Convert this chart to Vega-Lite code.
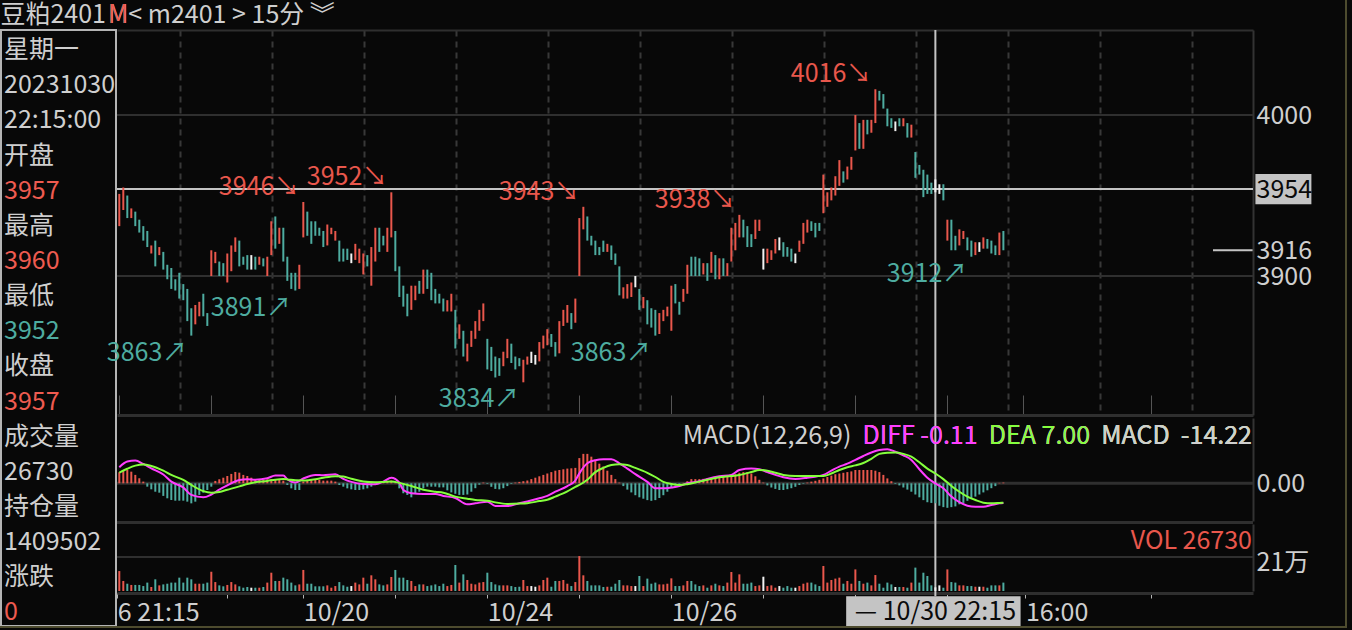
{
  "$schema": "https://vega.github.io/schema/vega-lite/v6.json",
  "width": 1352,
  "height": 630,
  "autosize": "none",
  "padding": 0,
  "background": "#080808",
  "config": {
    "view": {"stroke": null},
    "font": "Noto Sans CJK SC",
    "text": {"font": "Noto Sans CJK SC", "fontSize": 25},
    "axis": {"grid": false, "labelFont": "Noto Sans CJK SC", "labelFontSize": 25, "labelColor": "#cfcfcf"}
  },
  "datasets": {
    "k": [
      {"i":0,"o":3931,"h":3951,"l":3931,"c":3951,"v":145000,"m":7.9},
      {"i":1,"o":3941,"h":3955,"l":3941,"c":3955,"v":73000,"m":9},
      {"i":2,"o":3950,"h":3950,"l":3936,"c":3936,"v":53000,"m":9.5},
      {"i":3,"o":3936,"h":3942,"l":3936,"c":3942,"v":44000,"m":8.3},
      {"i":4,"o":3940,"h":3940,"l":3931,"c":3931,"v":44000,"m":6},
      {"i":5,"o":3935,"h":3935,"l":3927,"c":3927,"v":44000,"m":3.6},
      {"i":6,"o":3931,"h":3931,"l":3922,"c":3922,"v":36000,"m":1.2},
      {"i":7,"o":3928,"h":3928,"l":3918,"c":3918,"v":61000,"m":-2.4},
      {"i":8,"o":3914,"h":3919,"l":3914,"c":3919,"v":29000,"m":-4.3},
      {"i":9,"o":3922,"h":3922,"l":3906,"c":3906,"v":85000,"m":-6},
      {"i":10,"o":3913,"h":3918,"l":3913,"c":3918,"v":41000,"m":-6.7},
      {"i":11,"o":3915,"h":3915,"l":3904,"c":3904,"v":48000,"m":-9},
      {"i":12,"o":3907,"h":3907,"l":3898,"c":3898,"v":53000,"m":-10.7},
      {"i":13,"o":3905,"h":3905,"l":3892,"c":3892,"v":61000,"m":-11.9},
      {"i":14,"o":3898,"h":3898,"l":3891,"c":3891,"v":61000,"m":-12.4},
      {"i":15,"o":3902,"h":3902,"l":3886,"c":3886,"v":97000,"m":-12.4},
      {"i":16,"o":3895,"h":3895,"l":3885,"c":3885,"v":61000,"m":-12.4},
      {"i":17,"o":3892,"h":3892,"l":3872,"c":3872,"v":97000,"m":-13.1},
      {"i":18,"o":3880,"h":3880,"l":3863,"c":3864,"v":85000,"m":-14.3},
      {"i":19,"o":3870,"h":3882,"l":3870,"c":3882,"v":53000,"m":-13.1},
      {"i":20,"o":3875,"h":3884,"l":3875,"c":3884,"v":53000,"m":-8.3},
      {"i":21,"o":3889,"h":3889,"l":3875,"c":3875,"v":53000,"m":-6.7},
      {"i":22,"o":3877,"h":3877,"l":3869,"c":3869,"v":61000,"m":-4.8},
      {"i":23,"o":3900,"h":3916,"l":3900,"c":3916,"v":140000,"m":-2.4},
      {"i":24,"o":3908,"h":3915,"l":3908,"c":3915,"v":65000,"m":1.7},
      {"i":25,"o":3909,"h":3909,"l":3900,"c":3900,"v":41000,"m":2.9},
      {"i":26,"o":3908,"h":3908,"l":3900,"c":3900,"v":34000,"m":4},
      {"i":27,"o":3896,"h":3914,"l":3896,"c":3914,"v":44000,"m":5.2},
      {"i":28,"o":3903,"h":3919,"l":3903,"c":3919,"v":65000,"m":6.7},
      {"i":29,"o":3915,"h":3924,"l":3915,"c":3924,"v":48000,"m":8.1},
      {"i":30,"o":3922,"h":3922,"l":3906,"c":3906,"v":34000,"m":7.6},
      {"i":31,"o":3912,"h":3912,"l":3907,"c":3907,"v":24000,"m":6},
      {"i":32,"o":3913,"h":3913,"l":3904,"c":3904,"v":29000,"m":5.2},
      {"i":33,"o":3908,"h":3913,"l":3904,"c":3908,"v":24000,"m":4},
      {"i":34,"o":3912,"h":3912,"l":3904,"c":3904,"v":24000,"m":2.9},
      {"i":35,"o":3907,"h":3912,"l":3907,"c":3912,"v":24000,"m":2.4},
      {"i":36,"o":3911,"h":3911,"l":3906,"c":3906,"v":29000,"m":2.4},
      {"i":37,"o":3900,"h":3912,"l":3900,"c":3912,"v":61000,"m":2.9},
      {"i":38,"o":3913,"h":3934,"l":3913,"c":3934,"v":133000,"m":2.9},
      {"i":39,"o":3937,"h":3937,"l":3917,"c":3917,"v":73000,"m":2.9},
      {"i":40,"o":3920,"h":3930,"l":3920,"c":3930,"v":73000,"m":2.9},
      {"i":41,"o":3930,"h":3930,"l":3909,"c":3909,"v":97000,"m":1.9},
      {"i":42,"o":3912,"h":3912,"l":3897,"c":3897,"v":85000,"m":-1.2},
      {"i":43,"o":3902,"h":3902,"l":3892,"c":3892,"v":61000,"m":-3.6},
      {"i":44,"o":3902,"h":3902,"l":3891,"c":3891,"v":41000,"m":-4.8},
      {"i":45,"o":3892,"h":3907,"l":3892,"c":3907,"v":48000,"m":-4.8},
      {"i":46,"o":3924,"h":3946,"l":3924,"c":3945,"v":153000,"m":1.2},
      {"i":47,"o":3940,"h":3940,"l":3925,"c":3925,"v":53000,"m":2.4},
      {"i":48,"o":3934,"h":3934,"l":3920,"c":3920,"v":53000,"m":2.9},
      {"i":49,"o":3934,"h":3934,"l":3925,"c":3925,"v":34000,"m":3.1},
      {"i":50,"o":3930,"h":3930,"l":3925,"c":3925,"v":34000,"m":2.4},
      {"i":51,"o":3928,"h":3928,"l":3918,"c":3918,"v":34000,"m":1.9},
      {"i":52,"o":3919,"h":3932,"l":3919,"c":3932,"v":41000,"m":1.9},
      {"i":53,"o":3926,"h":3930,"l":3926,"c":3930,"v":24000,"m":1.9},
      {"i":54,"o":3922,"h":3928,"l":3922,"c":3928,"v":36000,"m":1.2},
      {"i":55,"o":3922,"h":3922,"l":3909,"c":3909,"v":65000,"m":-1.2},
      {"i":56,"o":3917,"h":3917,"l":3909,"c":3909,"v":41000,"m":-2.4},
      {"i":57,"o":3917,"h":3917,"l":3910,"c":3910,"v":31000,"m":-3.6},
      {"i":58,"o":3911,"h":3914,"l":3908,"c":3911,"v":36000,"m":-4.3},
      {"i":59,"o":3910,"h":3920,"l":3910,"c":3920,"v":61000,"m":-4.8},
      {"i":60,"o":3908,"h":3917,"l":3908,"c":3917,"v":48000,"m":-4.8},
      {"i":61,"o":3901,"h":3914,"l":3901,"c":3914,"v":97000,"m":-4.3},
      {"i":62,"o":3913,"h":3913,"l":3906,"c":3906,"v":53000,"m":-3.6},
      {"i":63,"o":3894,"h":3918,"l":3894,"c":3918,"v":114000,"m":-2.4},
      {"i":64,"o":3909,"h":3930,"l":3909,"c":3930,"v":85000,"m":-0.7},
      {"i":65,"o":3930,"h":3930,"l":3915,"c":3915,"v":48000,"m":0.5},
      {"i":66,"o":3925,"h":3925,"l":3919,"c":3919,"v":41000,"m":0.7},
      {"i":67,"o":3915,"h":3930,"l":3915,"c":3930,"v":48000,"m":1.2},
      {"i":68,"o":3924,"h":3952,"l":3924,"c":3951,"v":102000,"m":1.9},
      {"i":69,"o":3928,"h":3928,"l":3903,"c":3903,"v":153000,"m":0.5},
      {"i":70,"o":3906,"h":3906,"l":3887,"c":3887,"v":97000,"m":-3.6},
      {"i":71,"o":3894,"h":3894,"l":3881,"c":3881,"v":97000,"m":-7.1},
      {"i":72,"o":3889,"h":3889,"l":3875,"c":3875,"v":80000,"m":-8.3},
      {"i":73,"o":3879,"h":3894,"l":3879,"c":3894,"v":73000,"m":-10},
      {"i":74,"o":3885,"h":3894,"l":3885,"c":3894,"v":36000,"m":-7.6},
      {"i":75,"o":3897,"h":3897,"l":3889,"c":3889,"v":48000,"m":-6},
      {"i":76,"o":3889,"h":3904,"l":3889,"c":3904,"v":48000,"m":-3.6},
      {"i":77,"o":3904,"h":3904,"l":3892,"c":3892,"v":36000,"m":-2.4},
      {"i":78,"o":3902,"h":3902,"l":3885,"c":3885,"v":41000,"m":-2.4},
      {"i":79,"o":3892,"h":3892,"l":3883,"c":3883,"v":48000,"m":-2.4},
      {"i":80,"o":3889,"h":3889,"l":3883,"c":3883,"v":36000,"m":-2.9},
      {"i":81,"o":3886,"h":3886,"l":3878,"c":3878,"v":53000,"m":-2.9},
      {"i":82,"o":3878,"h":3885,"l":3878,"c":3885,"v":36000,"m":-5},
      {"i":83,"o":3878,"h":3889,"l":3878,"c":3889,"v":44000,"m":-6.5},
      {"i":84,"o":3879,"h":3879,"l":3855,"c":3855,"v":189000,"m":-7.5},
      {"i":85,"o":3861,"h":3870,"l":3861,"c":3870,"v":61000,"m":-8.3},
      {"i":86,"o":3866,"h":3866,"l":3850,"c":3850,"v":121000,"m":-8.3},
      {"i":87,"o":3847,"h":3858,"l":3847,"c":3858,"v":80000,"m":-8},
      {"i":88,"o":3856,"h":3866,"l":3856,"c":3866,"v":53000,"m":-6},
      {"i":89,"o":3861,"h":3872,"l":3861,"c":3872,"v":48000,"m":-3.5},
      {"i":90,"o":3866,"h":3879,"l":3866,"c":3879,"v":61000,"m":-1},
      {"i":91,"o":3872,"h":3883,"l":3872,"c":3883,"v":65000,"m":0.5},
      {"i":92,"o":3861,"h":3861,"l":3842,"c":3842,"v":133000,"m":-0.5},
      {"i":93,"o":3856,"h":3856,"l":3841,"c":3841,"v":65000,"m":-2.5},
      {"i":94,"o":3850,"h":3850,"l":3837,"c":3837,"v":48000,"m":-4},
      {"i":95,"o":3849,"h":3849,"l":3838,"c":3838,"v":41000,"m":-4.3},
      {"i":96,"o":3844,"h":3853,"l":3844,"c":3853,"v":41000,"m":-3.5},
      {"i":97,"o":3849,"h":3861,"l":3849,"c":3861,"v":41000,"m":-2},
      {"i":98,"o":3858,"h":3858,"l":3846,"c":3846,"v":36000,"m":-0.5},
      {"i":99,"o":3850,"h":3850,"l":3842,"c":3842,"v":29000,"m":0.5},
      {"i":100,"o":3849,"h":3849,"l":3844,"c":3844,"v":31000,"m":1},
      {"i":101,"o":3834,"h":3848,"l":3834,"c":3848,"v":80000,"m":1.5},
      {"i":102,"o":3845,"h":3850,"l":3845,"c":3850,"v":36000,"m":2},
      {"i":103,"o":3848,"h":3853,"l":3846,"c":3848,"v":36000,"m":3},
      {"i":104,"o":3847,"h":3851,"l":3845,"c":3847,"v":31000,"m":4},
      {"i":105,"o":3847,"h":3859,"l":3847,"c":3859,"v":41000,"m":5},
      {"i":106,"o":3855,"h":3863,"l":3855,"c":3863,"v":80000,"m":6},
      {"i":107,"o":3857,"h":3867,"l":3857,"c":3867,"v":97000,"m":7},
      {"i":108,"o":3864,"h":3864,"l":3856,"c":3856,"v":31000,"m":8},
      {"i":109,"o":3859,"h":3859,"l":3850,"c":3850,"v":73000,"m":9},
      {"i":110,"o":3852,"h":3872,"l":3852,"c":3872,"v":73000,"m":9.5},
      {"i":111,"o":3869,"h":3879,"l":3869,"c":3879,"v":80000,"m":10},
      {"i":112,"o":3871,"h":3882,"l":3871,"c":3882,"v":53000,"m":10.5},
      {"i":113,"o":3877,"h":3877,"l":3867,"c":3867,"v":36000,"m":10.7},
      {"i":114,"o":3871,"h":3886,"l":3871,"c":3886,"v":65000,"m":11},
      {"i":115,"o":3900,"h":3936,"l":3900,"c":3936,"v":254000,"m":18},
      {"i":116,"o":3929,"h":3943,"l":3929,"c":3942,"v":114000,"m":21},
      {"i":117,"o":3937,"h":3937,"l":3922,"c":3922,"v":73000,"m":21},
      {"i":118,"o":3925,"h":3925,"l":3919,"c":3919,"v":41000,"m":19},
      {"i":119,"o":3922,"h":3922,"l":3913,"c":3913,"v":41000,"m":16},
      {"i":120,"o":3918,"h":3918,"l":3913,"c":3913,"v":41000,"m":14},
      {"i":121,"o":3922,"h":3922,"l":3915,"c":3915,"v":29000,"m":12},
      {"i":122,"o":3915,"h":3920,"l":3915,"c":3920,"v":31000,"m":9},
      {"i":123,"o":3919,"h":3919,"l":3910,"c":3910,"v":31000,"m":6},
      {"i":124,"o":3914,"h":3914,"l":3907,"c":3907,"v":53000,"m":3},
      {"i":125,"o":3906,"h":3906,"l":3888,"c":3888,"v":80000,"m":0.5},
      {"i":126,"o":3886,"h":3893,"l":3886,"c":3893,"v":41000,"m":-2},
      {"i":127,"o":3886,"h":3895,"l":3886,"c":3895,"v":41000,"m":-4.5},
      {"i":128,"o":3887,"h":3896,"l":3887,"c":3896,"v":36000,"m":-6.5},
      {"i":129,"o":3897,"h":3900,"l":3893,"c":3897,"v":36000,"m":-8.5},
      {"i":130,"o":3892,"h":3892,"l":3879,"c":3879,"v":109000,"m":-10},
      {"i":131,"o":3880,"h":3887,"l":3880,"c":3887,"v":36000,"m":-11},
      {"i":132,"o":3885,"h":3885,"l":3870,"c":3870,"v":90000,"m":-12},
      {"i":133,"o":3880,"h":3880,"l":3868,"c":3868,"v":53000,"m":-12.5},
      {"i":134,"o":3879,"h":3879,"l":3863,"c":3863,"v":61000,"m":-12},
      {"i":135,"o":3864,"h":3877,"l":3864,"c":3877,"v":48000,"m":-10.5},
      {"i":136,"o":3872,"h":3879,"l":3872,"c":3879,"v":48000,"m":-8.5},
      {"i":137,"o":3875,"h":3881,"l":3875,"c":3881,"v":53000,"m":-6},
      {"i":138,"o":3866,"h":3894,"l":3866,"c":3894,"v":92000,"m":-3.5},
      {"i":139,"o":3895,"h":3895,"l":3883,"c":3883,"v":36000,"m":-1.5},
      {"i":140,"o":3884,"h":3884,"l":3876,"c":3876,"v":36000,"m":-0.5},
      {"i":141,"o":3884,"h":3892,"l":3884,"c":3892,"v":41000,"m":0.3},
      {"i":142,"o":3889,"h":3907,"l":3889,"c":3907,"v":73000,"m":1.5},
      {"i":143,"o":3912,"h":3912,"l":3900,"c":3900,"v":73000,"m":3},
      {"i":144,"o":3912,"h":3912,"l":3900,"c":3900,"v":48000,"m":3},
      {"i":145,"o":3911,"h":3911,"l":3900,"c":3900,"v":36000,"m":3},
      {"i":146,"o":3901,"h":3908,"l":3901,"c":3908,"v":41000,"m":3.2},
      {"i":147,"o":3908,"h":3908,"l":3897,"c":3897,"v":24000,"m":3.4},
      {"i":148,"o":3902,"h":3915,"l":3902,"c":3915,"v":41000,"m":3.6},
      {"i":149,"o":3913,"h":3913,"l":3898,"c":3898,"v":53000,"m":3.8},
      {"i":150,"o":3898,"h":3911,"l":3898,"c":3911,"v":41000,"m":4.2},
      {"i":151,"o":3911,"h":3911,"l":3900,"c":3900,"v":36000,"m":4.6},
      {"i":152,"o":3900,"h":3908,"l":3900,"c":3908,"v":61000,"m":5},
      {"i":153,"o":3909,"h":3930,"l":3909,"c":3930,"v":138000,"m":5.5},
      {"i":154,"o":3916,"h":3933,"l":3916,"c":3933,"v":61000,"m":6.5},
      {"i":155,"o":3924,"h":3938,"l":3924,"c":3937,"v":121000,"m":7.5},
      {"i":156,"o":3935,"h":3935,"l":3924,"c":3924,"v":53000,"m":8},
      {"i":157,"o":3931,"h":3931,"l":3918,"c":3918,"v":53000,"m":8},
      {"i":158,"o":3926,"h":3926,"l":3918,"c":3918,"v":61000,"m":7},
      {"i":159,"o":3923,"h":3935,"l":3923,"c":3935,"v":36000,"m":5},
      {"i":160,"o":3928,"h":3935,"l":3928,"c":3935,"v":41000,"m":2.5},
      {"i":161,"o":3914,"h":3917,"l":3904,"c":3914,"v":104000,"m":0.5},
      {"i":162,"o":3908,"h":3917,"l":3908,"c":3917,"v":36000,"m":-1.5},
      {"i":163,"o":3910,"h":3916,"l":3910,"c":3916,"v":41000,"m":-3},
      {"i":164,"o":3914,"h":3923,"l":3914,"c":3923,"v":24000,"m":-4},
      {"i":165,"o":3920,"h":3924,"l":3916,"c":3920,"v":36000,"m":-4.8},
      {"i":166,"o":3921,"h":3921,"l":3912,"c":3912,"v":24000,"m":-4.8},
      {"i":167,"o":3918,"h":3918,"l":3912,"c":3912,"v":36000,"m":-4.2},
      {"i":168,"o":3917,"h":3917,"l":3909,"c":3909,"v":24000,"m":-3.5},
      {"i":169,"o":3911,"h":3914,"l":3908,"c":3911,"v":24000,"m":-2.5},
      {"i":170,"o":3915,"h":3922,"l":3915,"c":3922,"v":36000,"m":-1.2},
      {"i":171,"o":3920,"h":3933,"l":3920,"c":3933,"v":53000,"m":-0.4},
      {"i":172,"o":3927,"h":3935,"l":3927,"c":3935,"v":61000,"m":0.5},
      {"i":173,"o":3934,"h":3934,"l":3928,"c":3928,"v":61000,"m":1.2},
      {"i":174,"o":3933,"h":3933,"l":3924,"c":3924,"v":48000,"m":1.8},
      {"i":175,"o":3933,"h":3933,"l":3928,"c":3928,"v":36000,"m":2.5},
      {"i":176,"o":3939,"h":3963,"l":3939,"c":3963,"v":182000,"m":3.5},
      {"i":177,"o":3943,"h":3952,"l":3943,"c":3952,"v":61000,"m":4.5},
      {"i":178,"o":3947,"h":3955,"l":3947,"c":3955,"v":80000,"m":5.5},
      {"i":179,"o":3950,"h":3962,"l":3950,"c":3962,"v":90000,"m":6.5},
      {"i":180,"o":3956,"h":3972,"l":3956,"c":3972,"v":97000,"m":7},
      {"i":181,"o":3965,"h":3965,"l":3958,"c":3958,"v":53000,"m":7.5},
      {"i":182,"o":3960,"h":3968,"l":3960,"c":3968,"v":73000,"m":8},
      {"i":183,"o":3966,"h":3974,"l":3966,"c":3974,"v":53000,"m":8.5},
      {"i":184,"o":3978,"h":4000,"l":3978,"c":4000,"v":157000,"m":9.5},
      {"i":185,"o":3995,"h":3995,"l":3979,"c":3979,"v":73000,"m":9.5},
      {"i":186,"o":3979,"h":3997,"l":3979,"c":3997,"v":53000,"m":9.5},
      {"i":187,"o":3997,"h":3997,"l":3988,"c":3988,"v":61000,"m":9.5},
      {"i":188,"o":3989,"h":3997,"l":3989,"c":3997,"v":41000,"m":9.5},
      {"i":189,"o":3995,"h":4016,"l":3995,"c":4014,"v":116000,"m":9},
      {"i":190,"o":4015,"h":4015,"l":4009,"c":4009,"v":53000,"m":8},
      {"i":191,"o":4013,"h":4013,"l":4004,"c":4004,"v":24000,"m":6},
      {"i":192,"o":4004,"h":4004,"l":3993,"c":3993,"v":61000,"m":3.5},
      {"i":193,"o":3998,"h":3998,"l":3992,"c":3992,"v":48000,"m":1.5},
      {"i":194,"o":3993,"h":3996,"l":3990,"c":3993,"v":29000,"m":-0.5},
      {"i":195,"o":3998,"h":3998,"l":3993,"c":3993,"v":29000,"m":-1.5},
      {"i":196,"o":3993,"h":3998,"l":3993,"c":3998,"v":29000,"m":-3},
      {"i":197,"o":3995,"h":3995,"l":3986,"c":3986,"v":24000,"m":-4.5},
      {"i":198,"o":3986,"h":3994,"l":3986,"c":3994,"v":61000,"m":-6},
      {"i":199,"o":3977,"h":3977,"l":3961,"c":3961,"v":170000,"m":-8},
      {"i":200,"o":3969,"h":3969,"l":3963,"c":3963,"v":61000,"m":-10},
      {"i":201,"o":3966,"h":3966,"l":3949,"c":3949,"v":133000,"m":-12},
      {"i":202,"o":3963,"h":3963,"l":3951,"c":3951,"v":109000,"m":-13.5},
      {"i":203,"o":3958,"h":3958,"l":3951,"c":3951,"v":41000,"m":-14},
      {"i":204,"o":3957,"h":3960,"l":3952,"c":3957,"v":26730,"m":-14.22},
      {"i":205,"o":3954,"h":3957,"l":3951,"c":3954,"v":41000,"m":-16},
      {"i":206,"o":3957,"h":3957,"l":3947,"c":3947,"v":24000,"m":-17},
      {"i":207,"o":3922,"h":3935,"l":3922,"c":3935,"v":157000,"m":-17.5},
      {"i":208,"o":3935,"h":3935,"l":3916,"c":3916,"v":65000,"m":-17},
      {"i":209,"o":3925,"h":3925,"l":3916,"c":3916,"v":61000,"m":-16.5},
      {"i":210,"o":3919,"h":3929,"l":3919,"c":3929,"v":41000,"m":-15},
      {"i":211,"o":3923,"h":3928,"l":3923,"c":3928,"v":41000,"m":-14},
      {"i":212,"o":3924,"h":3924,"l":3916,"c":3916,"v":36000,"m":-12.5},
      {"i":213,"o":3922,"h":3922,"l":3912,"c":3912,"v":36000,"m":-11},
      {"i":214,"o":3913,"h":3921,"l":3913,"c":3921,"v":31000,"m":-9.5},
      {"i":215,"o":3918,"h":3921,"l":3915,"c":3918,"v":31000,"m":-8},
      {"i":216,"o":3917,"h":3924,"l":3917,"c":3924,"v":31000,"m":-6.5},
      {"i":217,"o":3923,"h":3923,"l":3917,"c":3917,"v":24000,"m":-5},
      {"i":218,"o":3922,"h":3922,"l":3914,"c":3914,"v":41000,"m":-3.5},
      {"i":219,"o":3919,"h":3919,"l":3913,"c":3913,"v":41000,"m":-2},
      {"i":220,"o":3913,"h":3927,"l":3913,"c":3927,"v":41000,"m":0.3},
      {"i":221,"o":3928,"h":3928,"l":3916,"c":3916,"v":61000,"m":0.5}
    ],
    "macd": [
      {"i":0,"diff":11.5,"dea":7.6},{"i":2,"diff":15.5,"dea":10.4},{"i":4,"diff":16.2,"dea":12.6},
      {"i":6,"diff":13.8,"dea":13.5},{"i":8,"diff":10.7,"dea":12.4},{"i":11,"diff":6.3,"dea":9.0},
      {"i":13,"diff":1.2,"dea":6.0},{"i":16,"diff":-3.0,"dea":2.4},{"i":18,"diff":-8.3,"dea":-1.2},
      {"i":21,"diff":-10.0,"dea":-5.6},{"i":23,"diff":-8.0,"dea":-6.7},{"i":25,"diff":-4.5,"dea":-6.2},
      {"i":27,"diff":-1.5,"dea":-4.6},{"i":30,"diff":2.4,"dea":-2.2},{"i":32,"diff":2.9,"dea":-0.5},
      {"i":34,"diff":2.6,"dea":0.8},{"i":37,"diff":3.6,"dea":1.7},{"i":39,"diff":5.5,"dea":2.6},
      {"i":41,"diff":5.5,"dea":3.0},{"i":42,"diff":2.9,"dea":2.8},{"i":44,"diff":0.5,"dea":2.1},
      {"i":46,"diff":3.4,"dea":2.0},{"i":49,"diff":6.0,"dea":2.9},{"i":51,"diff":5.7,"dea":4.0},
      {"i":54,"diff":6.4,"dea":5.1},{"i":56,"diff":3.2,"dea":4.8},{"i":58,"diff":1.0,"dea":3.3},
      {"i":61,"diff":-0.5,"dea":1.3},{"i":64,"diff":-0.7,"dea":0.7},{"i":66,"diff":1.2,"dea":0.9},
      {"i":68,"diff":4.0,"dea":1.2},{"i":70,"diff":0.5,"dea":0.3},{"i":71,"diff":-4.8,"dea":-0.4},
      {"i":73,"diff":-7.1,"dea":-1.9},{"i":76,"diff":-7.6,"dea":-4.6},{"i":79,"diff":-7.6,"dea":-6.0},
      {"i":81,"diff":-9.0,"dea":-6.7},{"i":84,"diff":-10.5,"dea":-9.5},{"i":87,"diff":-15.0,"dea":-11.0},
      {"i":89,"diff":-14.3,"dea":-11.9},{"i":92,"diff":-13.1,"dea":-12.4},{"i":94,"diff":-16.2,"dea":-13.6},
      {"i":97,"diff":-16.2,"dea":-14.7},{"i":100,"diff":-14.3,"dea":-14.5},{"i":102,"diff":-13.0,"dea":-14.2},
      {"i":105,"diff":-10.7,"dea":-12.7},{"i":107,"diff":-9.0,"dea":-11.7},{"i":109,"diff":-6.0,"dea":-9.5},
      {"i":112,"diff":-2.0,"dea":-5.8},{"i":114,"diff":2.0,"dea":-2.5},{"i":115,"diff":7.1,"dea":-1.2},
      {"i":117,"diff":14.3,"dea":2.5},{"i":119,"diff":16.5,"dea":8.0},{"i":121,"diff":17.1,"dea":11.0},
      {"i":123,"diff":17.1,"dea":13.0},{"i":125,"diff":14.3,"dea":13.6},{"i":127,"diff":10.5,"dea":13.0},
      {"i":129,"diff":6.5,"dea":11.0},{"i":132,"diff":1.0,"dea":7.5},{"i":134,"diff":-3.6,"dea":4.5},
      {"i":136,"diff":-3.6,"dea":1.0},{"i":138,"diff":-3.0,"dea":-0.5},{"i":140,"diff":-2.0,"dea":-1.2},
      {"i":142,"diff":0.0,"dea":-0.6},{"i":145,"diff":1.5,"dea":1.2},{"i":147,"diff":3.1,"dea":2.5},
      {"i":150,"diff":5.0,"dea":4.3},{"i":153,"diff":6.0,"dea":5.2},{"i":155,"diff":9.5,"dea":6.0},
      {"i":158,"diff":10.5,"dea":8.0},{"i":160,"diff":10.0,"dea":9.5},{"i":162,"diff":8.0,"dea":9.0},
      {"i":164,"diff":6.0,"dea":7.5},{"i":166,"diff":4.3,"dea":6.0},{"i":169,"diff":3.1,"dea":5.2},
      {"i":172,"diff":4.0,"dea":5.2},{"i":176,"diff":6.0,"dea":5.2},{"i":178,"diff":9.0,"dea":7.0},
      {"i":180,"diff":11.9,"dea":9.5},{"i":182,"diff":14.0,"dea":11.5},{"i":184,"diff":16.7,"dea":12.8},
      {"i":186,"diff":19.5,"dea":14.5},{"i":188,"diff":22.0,"dea":17.5},{"i":190,"diff":23.8,"dea":21.0},
      {"i":192,"diff":24.3,"dea":21.8},{"i":194,"diff":22.5,"dea":22.0},{"i":196,"diff":20.0,"dea":21.0},
      {"i":198,"diff":16.7,"dea":19.0},{"i":200,"diff":10.0,"dea":15.0},{"i":202,"diff":4.0,"dea":10.5},
      {"i":204,"diff":-0.11,"dea":7.0},{"i":206,"diff":-3.5,"dea":3.0},{"i":208,"diff":-9.5,"dea":-1.9},
      {"i":210,"diff":-13.5,"dea":-6.0},{"i":212,"diff":-16.0,"dea":-9.5},{"i":214,"diff":-16.7,"dea":-11.9},
      {"i":216,"diff":-16.7,"dea":-13.8},{"i":218,"diff":-15.5,"dea":-14.3},{"i":220,"diff":-14.3,"dea":-14.0},
      {"i":221,"diff":-14.0,"dea":-13.8}
    ],
    "notes": [
      {"i":46,"p":3946,"t":"3946↘","kind":"hi"},
      {"i":68,"p":3952,"t":"3952↘","kind":"hi"},
      {"i":116,"p":3943,"t":"3943↘","kind":"hi"},
      {"i":155,"p":3938,"t":"3938↘","kind":"hi"},
      {"i":189,"p":4016,"t":"4016↘","kind":"hi"},
      {"i":18,"p":3863,"t":"3863↗","kind":"lo"},
      {"i":44,"p":3891,"t":"3891↗","kind":"lo"},
      {"i":101,"p":3834,"t":"3834↗","kind":"lo"},
      {"i":134,"p":3863,"t":"3863↗","kind":"lo"},
      {"i":213,"p":3912,"t":"3912↗","kind":"lo"}
    ],
    "levels": [{"p":4000},{"p":3900}],
    "cross": [{"i":204,"p":3954,"last":3916,"tag":"3954","lab":"— 10/30 22:15"}],
    "heads": [
      {"g":"macd","t":"MACD(12,26,9) \u00a0DIFF -0.11 \u00a0DEA 7.00 \u00a0MACD \u00a0-14.22","tone":"gray"},
      {"g":"macd","t":"DIFF -0.11 \u00a0DEA 7.00 \u00a0MACD \u00a0-14.22","tone":"magenta"},
      {"g":"macd","t":"DEA 7.00 \u00a0MACD \u00a0-14.22","tone":"green"},
      {"g":"macd","t":"MACD \u00a0-14.22","tone":"gray"},
      {"g":"vol","t":"VOL 26730","tone":"red"}
    ],
    "info": [
      {"k":"wd","t":"星期一","tone":"gray"},
      {"k":"date","t":"20231030","tone":"gray"},
      {"k":"time","t":"22:15:00","tone":"gray"},
      {"k":"ol","t":"开盘","tone":"gray"},
      {"k":"ov","t":"3957","tone":"red"},
      {"k":"hl","t":"最高","tone":"gray"},
      {"k":"hv","t":"3960","tone":"red"},
      {"k":"ll","t":"最低","tone":"gray"},
      {"k":"lv","t":"3952","tone":"teal"},
      {"k":"cl","t":"收盘","tone":"gray"},
      {"k":"cv","t":"3957","tone":"red"},
      {"k":"vl","t":"成交量","tone":"gray"},
      {"k":"vv","t":"26730","tone":"gray"},
      {"k":"oil","t":"持仓量","tone":"gray"},
      {"k":"oiv","t":"1409502","tone":"gray"},
      {"k":"chl","t":"涨跌","tone":"gray"},
      {"k":"chv","t":"0","tone":"red"}
    ],
    "titlebar": [
      {"k":"title","t":"豆粕2401","side":"left","tone":"gray"},
      {"k":"title","t":"M< m2401 > 15分 ︾","side":"right","tone":"gray"},
      {"k":"title","t":"M","side":"right","tone":"red"}
    ]
  },
  "resolve": {
    "scale": {"x": "independent", "y": "independent"},
    "axis": {"x": "independent", "y": "independent"}
  },
  "layer": [
    {
      "data": {"name": "cross"},
      "mark": {"type": "rect", "fill": "#080808", "stroke": "#b4b4b4", "strokeWidth": 2},
      "encoding": {
        "x": {"datum": 0, "scale": {"domain": [0, 1], "range": [1, 116]}, "axis": null},
        "x2": {"datum": 1},
        "y": {"datum": 0, "scale": {"domain": [0, 1], "range": [30, 626]}, "axis": null},
        "y2": {"datum": 1}
      }
    },
    {
      "data": {"name": "levels"},
      "mark": {"type": "rule", "color": "#2f2f2f", "strokeWidth": 2},
      "encoding": {
        "x": {"datum": -0.575, "scale": {"domain": [-0.575, 283.4], "range": [117, 1253]}, "axis": null},
        "x2": {"datum": 283.4},
        "y": {"field": "p", "type": "quantitative", "scale": {"domain": [3813.7, 4052.8], "range": [415, 30]},
          "axis": {"orient": "right", "offset": -99, "values": [3900, 4000], "format": "d", "ticks": false, "domain": true,
            "domainColor": "#333333", "domainWidth": 2, "labelPadding": 3, "title": null}}
      }
    },
    {
      "data": {"name": "cross"},
      "mark": {"type": "rule", "color": "#2f2f2f", "strokeWidth": 3},
      "encoding": {
        "x": {"datum": -0.575, "scale": {"domain": [-0.575, 283.4], "range": [117, 1253]}, "axis": null},
        "x2": {"datum": 283.4},
        "y": {"datum": 0, "scale": {"domain": [-26.9, 46.6], "range": [521, 418]}, "axis": null}
      }
    },
    {
      "data": {"name": "cross"},
      "mark": {"type": "rule", "color": "#2f2f2f", "strokeWidth": 3},
      "encoding": {
        "x": {"datum": -0.575, "scale": {"domain": [-0.575, 283.4], "range": [117, 1253]}, "axis": null},
        "x2": {"datum": 283.4},
        "y": {"datum": -28, "scale": {"domain": [-26.9, 46.6], "range": [521, 418]}, "axis": null}
      }
    },
    {
      "data": {"name": "cross"},
      "mark": {"type": "rule", "color": "#2f2f2f", "strokeWidth": 2},
      "encoding": {
        "x": {"datum": -0.575, "scale": {"domain": [-0.575, 283.4], "range": [117, 1253]}, "axis": null},
        "x2": {"datum": 283.4},
        "y": {"datum": 247000, "scale": {"domain": [0, 487000], "range": [591, 524]}, "axis": null}
      }
    },
    {
      "data": {"name": "cross"},
      "mark": {"type": "rule", "color": "#c4c4c4", "strokeWidth": 2},
      "encoding": {
        "x": {"datum": -0.575, "scale": {"domain": [-0.575, 283.4], "range": [117, 1253]}, "axis": null},
        "x2": {"datum": 283.4},
        "y": {"field": "p", "type": "quantitative", "scale": {"domain": [3813.7, 4052.8], "range": [415, 30]}, "axis": null}
      }
    },
    {
      "data": {"name": "cross"},
      "mark": {"type": "rule", "color": "#c4c4c4", "strokeWidth": 2},
      "encoding": {
        "x": {"field": "i", "type": "quantitative", "scale": {"domain": [-0.575, 283.4], "range": [117, 1253]}, "axis": null},
        "y": {"datum": 4052.8, "scale": {"domain": [3813.7, 4052.8], "range": [415, 30]}, "axis": null},
        "y2": {"datum": 3701.2}
      }
    },
    {
      "data": {"name": "cross"},
      "mark": {"type": "rule", "color": "#c4c4c4", "strokeWidth": 2},
      "encoding": {
        "x": {"datum": 273.4, "scale": {"domain": [-0.575, 283.4], "range": [117, 1253]}, "axis": null},
        "x2": {"datum": 283.3},
        "y": {"field": "last", "type": "quantitative", "scale": {"domain": [3813.7, 4052.8], "range": [415, 30]},
          "axis": {"orient": "right", "offset": -99, "values": [3916], "format": "d", "ticks": false, "domain": false, "labelPadding": 3, "title": null}}
      }
    },
    {
      "data": {"name": "k"},
      "mark": {"type": "rule", "strokeWidth": 2},
      "encoding": {
        "x": {"field": "i", "type": "quantitative", "scale": {"domain": [-0.575, 283.4], "range": [117, 1253]},
          "axis": {"orient": "bottom", "offset": -215, "values": [0, 23, 46, 69, 92, 115, 138, 161, 184, 207, 226, 258],
            "labels": false, "tickSize": -20, "tickColor": "#555555", "tickWidth": 1, "domain": true,
            "domainColor": "#2f2f2f", "domainWidth": 3, "title": null}},
        "y": {"field": "l", "type": "quantitative", "scale": {"domain": [3813.7, 4052.8], "range": [415, 30]}, "axis": null},
        "y2": {"field": "h"},
        "color": {"condition": [{"test": "datum.c > datum.o", "value": "#e9574c"}, {"test": "datum.c < datum.o", "value": "#4eaca0"}], "value": "#f2f2f2"}
      }
    },
    {
      "data": {"name": "notes"},
      "transform": [{"filter": "datum.kind == 'hi'"}],
      "mark": {"type": "text", "align": "right", "baseline": "alphabetic", "dx": -4, "dy": -7, "fontSize": 25, "color": "#e9574c"},
      "encoding": {
        "x": {"field": "i", "type": "quantitative", "scale": {"domain": [-0.575, 283.4], "range": [117, 1253]},
          "axis": {"orient": "top", "offset": -30, "values": [15.2, 38.2, 61.2, 84.2, 107.2, 130.2, 153.2, 176.2, 199.2, 222.2, 245.2, 268.2],
            "labels": false, "tickSize": -385, "tickDash": [6, 5], "tickColor": "#383838", "tickWidth": 2,
            "domain": true, "domainColor": "#2f2f2f", "domainWidth": 2, "title": null}},
        "y": {"field": "p", "type": "quantitative", "scale": {"domain": [3813.7, 4052.8], "range": [415, 30]}, "axis": null},
        "text": {"field": "t"}
      }
    },
    {
      "data": {"name": "notes"},
      "transform": [{"filter": "datum.kind == 'lo'"}],
      "mark": {"type": "text", "align": "right", "baseline": "middle", "dx": -4, "dy": 17, "fontSize": 25, "color": "#4eaca0"},
      "encoding": {
        "x": {"field": "i", "type": "quantitative", "scale": {"domain": [-0.575, 283.4], "range": [117, 1253]}, "axis": null},
        "y": {"field": "p", "type": "quantitative", "scale": {"domain": [3813.7, 4052.8], "range": [415, 30]}, "axis": null},
        "text": {"field": "t"}
      }
    },
    {
      "data": {"name": "k"},
      "mark": {"type": "rule", "strokeWidth": 2},
      "encoding": {
        "x": {"field": "i", "type": "quantitative", "scale": {"domain": [-0.575, 283.4], "range": [117, 1253]}, "axis": null},
        "y": {"field": "m", "type": "quantitative", "scale": {"domain": [-26.9, 46.6], "range": [521, 418]}, "axis": null},
        "y2": {"datum": 0},
        "color": {"condition": {"test": "datum.m >= 0", "value": "#e9574c"}, "value": "#4eaca0"}
      }
    },
    {
      "data": {"name": "macd"},
      "mark": {"type": "line", "color": "#ff3dff", "strokeWidth": 2, "interpolate": "monotone"},
      "encoding": {
        "x": {"field": "i", "type": "quantitative", "scale": {"domain": [-0.575, 283.4], "range": [117, 1253]}, "axis": null},
        "y": {"field": "diff", "type": "quantitative", "scale": {"domain": [-26.9, 46.6], "range": [521, 418]},
          "axis": {"orient": "right", "offset": -99, "values": [0], "labelExpr": "'0.00'", "ticks": false, "domain": true,
            "domainColor": "#333333", "domainWidth": 2, "labelPadding": 3, "title": null}}
      }
    },
    {
      "data": {"name": "macd"},
      "mark": {"type": "line", "color": "#84ff3c", "strokeWidth": 2, "interpolate": "monotone"},
      "encoding": {
        "x": {"field": "i", "type": "quantitative", "scale": {"domain": [-0.575, 283.4], "range": [117, 1253]}, "axis": null},
        "y": {"field": "dea", "type": "quantitative", "scale": {"domain": [-26.9, 46.6], "range": [521, 418]}, "axis": null}
      }
    },
    {
      "data": {"name": "heads"},
      "transform": [{"filter": "datum.g == 'macd'"}],
      "mark": {"type": "text", "align": "right", "baseline": "middle", "dx": -1, "fontSize": 25},
      "encoding": {
        "x": {"datum": 283.4, "scale": {"domain": [-0.575, 283.4], "range": [117, 1253]}, "axis": null},
        "y": {"datum": 33.8, "scale": {"domain": [-26.9, 46.6], "range": [521, 418]}, "axis": null},
        "text": {"field": "t"},
        "color": {"condition": [{"test": "datum.tone == 'magenta'", "value": "#ff3dff"}, {"test": "datum.tone == 'green'", "value": "#84ff3c"}], "value": "#cfcfcf"}
      }
    },
    {
      "data": {"name": "k"},
      "mark": {"type": "rule", "strokeWidth": 2},
      "encoding": {
        "x": {"field": "i", "type": "quantitative", "scale": {"domain": [-0.575, 283.4], "range": [117, 1253]},
          "axis": {"orient": "bottom", "offset": -37, "values": [-0.5, 27, 46, 69, 92, 115, 138, 161, 184, 207, 226.5, 258],
            "labelExpr": "datum.value == -0.5 ? '6 21:15' : datum.value == 46 ? '10/20' : datum.value == 92 ? '10/24' : datum.value == 138 ? '10/26' : datum.value == 226.5 ? '16:00' : ''",
            "labelAlign": "left", "labelPadding": 2, "labelOverlap": false, "labelFlush": false, "labelBound": false,
            "tickSize": 5, "tickColor": "#b4b4b4", "domain": true, "domainColor": "#2f2f2f", "domainWidth": 3, "title": null}},
        "y": {"field": "v", "type": "quantitative", "scale": {"domain": [0, 487000], "range": [591, 524]},
          "axis": {"orient": "right", "offset": -99, "values": [210000], "labelExpr": "'21万'", "ticks": false, "domain": true,
            "domainColor": "#333333", "domainWidth": 2, "labelPadding": 3, "title": null}},
        "y2": {"datum": 0},
        "color": {"condition": [{"test": "datum.c > datum.o", "value": "#e9574c"}, {"test": "datum.c < datum.o", "value": "#4eaca0"}], "value": "#f2f2f2"}
      }
    },
    {
      "data": {"name": "heads"},
      "transform": [{"filter": "datum.g == 'vol'"}],
      "mark": {"type": "text", "align": "right", "baseline": "middle", "dx": -1, "fontSize": 25, "color": "#e9574c"},
      "encoding": {
        "x": {"datum": 283.4, "scale": {"domain": [-0.575, 283.4], "range": [117, 1253]}, "axis": null},
        "y": {"datum": 363000, "scale": {"domain": [0, 487000], "range": [591, 524]}, "axis": null},
        "text": {"field": "t"}
      }
    },
    {
      "data": {"name": "cross"},
      "mark": {"type": "rect", "color": "#c4c4c4"},
      "encoding": {
        "x": {"datum": 284, "scale": {"domain": [-0.575, 283.4], "range": [117, 1253]}, "axis": null},
        "x2": {"datum": 298},
        "y": {"datum": 3963.3, "scale": {"domain": [3813.7, 4052.8], "range": [415, 30]}, "axis": null},
        "y2": {"datum": 3944.6}
      }
    },
    {
      "data": {"name": "cross"},
      "mark": {"type": "text", "align": "left", "baseline": "middle", "dy": 1, "fontSize": 25, "color": "#0a0a0a"},
      "encoding": {
        "x": {"datum": 284.3, "scale": {"domain": [-0.575, 283.4], "range": [117, 1253]}, "axis": null},
        "y": {"field": "p", "type": "quantitative", "scale": {"domain": [3813.7, 4052.8], "range": [415, 30]}, "axis": null},
        "text": {"field": "tag"}
      }
    },
    {
      "data": {"name": "cross"},
      "mark": {"type": "rect", "color": "#c4c4c4"},
      "encoding": {
        "x": {"datum": 181.7, "scale": {"domain": [-0.575, 283.4], "range": [117, 1253]}, "axis": null},
        "x2": {"datum": 225.3},
        "y": {"datum": 3701.2, "scale": {"domain": [3813.7, 4052.8], "range": [415, 30]}, "axis": null},
        "y2": {"datum": 3682.0}
      }
    },
    {
      "data": {"name": "cross"},
      "mark": {"type": "text", "align": "center", "baseline": "middle", "fontSize": 25, "color": "#0a0a0a"},
      "encoding": {
        "x": {"field": "i", "type": "quantitative", "scale": {"domain": [-0.575, 283.4], "range": [117, 1253]}, "axis": null},
        "y": {"datum": 3691.6, "scale": {"domain": [3813.7, 4052.8], "range": [415, 30]}, "axis": null},
        "text": {"field": "lab"}
      }
    },
    {
      "data": {"name": "cross"},
      "mark": {"type": "rect", "fill": null, "stroke": "#4d4b2e", "strokeWidth": 2},
      "encoding": {
        "x": {"datum": 0, "scale": {"domain": [0, 1], "range": [-2, 1346]}, "axis": null},
        "x2": {"datum": 1},
        "y": {"datum": 0, "scale": {"domain": [0, 1], "range": [-2, 627]}, "axis": null},
        "y2": {"datum": 1}
      }
    },
    {
      "data": {"name": "info"},
      "mark": {"type": "text", "align": "left", "baseline": "middle", "dx": 4, "fontSize": 25},
      "encoding": {
        "x": {"datum": 0, "scale": {"domain": [0, 1], "range": [0, 116]}, "axis": null},
        "y": {"field": "k", "type": "nominal", "axis": null,
          "scale": {"type": "point", "padding": 0, "range": [15, 612.4],
            "domain": ["title","wd","date","time","ol","ov","hl","hv","ll","lv","cl","cv","vl","vv","oil","oiv","chl","chv"]}},
        "text": {"field": "t"},
        "color": {"condition": [{"test": "datum.tone == 'red'", "value": "#ee5b50"}, {"test": "datum.tone == 'teal'", "value": "#4eaca0"}], "value": "#cfcfcf"}
      }
    },
    {
      "data": {"name": "titlebar"},
      "transform": [{"filter": "datum.side == 'left'"}],
      "mark": {"type": "text", "align": "right", "baseline": "middle", "dx": -10, "fontSize": 25, "color": "#cfcfcf"},
      "encoding": {
        "x": {"datum": 1, "scale": {"domain": [0, 1], "range": [0, 116]}, "axis": null},
        "y": {"field": "k", "type": "nominal", "axis": null,
          "scale": {"type": "point", "padding": 0, "range": [15, 612.4],
            "domain": ["title","wd","date","time","ol","ov","hl","hv","ll","lv","cl","cv","vl","vv","oil","oiv","chl","chv"]}},
        "text": {"field": "t"}
      }
    },
    {
      "data": {"name": "titlebar"},
      "transform": [{"filter": "datum.side == 'right'"}],
      "mark": {"type": "text", "align": "left", "baseline": "middle", "dx": -8, "fontSize": 25},
      "encoding": {
        "x": {"datum": 1, "scale": {"domain": [0, 1], "range": [0, 116]}, "axis": null},
        "y": {"field": "k", "type": "nominal", "axis": null,
          "scale": {"type": "point", "padding": 0, "range": [15, 612.4],
            "domain": ["title","wd","date","time","ol","ov","hl","hv","ll","lv","cl","cv","vl","vv","oil","oiv","chl","chv"]}},
        "text": {"field": "t"},
        "color": {"condition": {"test": "datum.tone == 'red'", "value": "#ee5b50"}, "value": "#cfcfcf"}
      }
    }
  ]
}
